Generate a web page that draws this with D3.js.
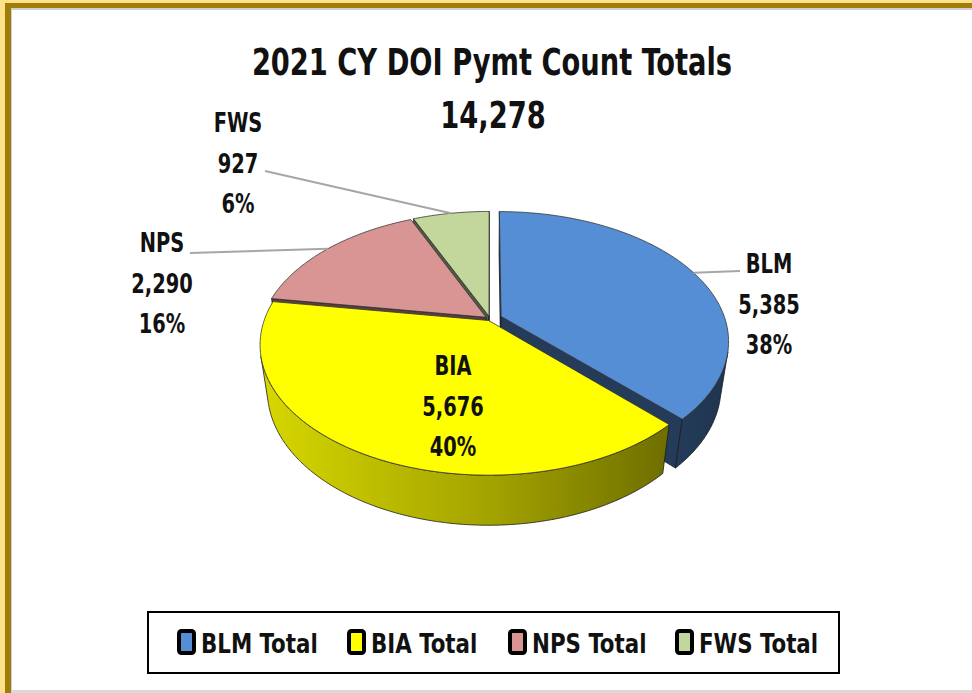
<!DOCTYPE html>
<html>
<head>
<meta charset="utf-8">
<script src="https://cdn.jsdelivr.net/npm/d3@7"></script>
<style>
  html, body { margin: 0; padding: 0; background: #fde28a; }
  svg { display: block; }
  text { font-family: "DejaVu Sans Condensed", "DejaVu Sans", sans-serif; font-weight: bold; fill: #111; }
</style>
</head>
<body>
<svg id="chart" width="972" height="693"></svg>
<script>
// data
const categories = ["BLM", "BIA", "NPS", "FWS"];
const counts = [5385, 5676, 2290, 927];
const legendLabels = ["BLM Total", "BIA Total", "NPS Total", "FWS Total"];
const titleText = "2021 CY DOI Pymt Count Totals";

// look
const colors = ["#558ed5", "#ffff00", "#d99594", "#c3d69b"];
const explode = [12, 3, 5, 5];
// label block centre x / first baseline, and where the leader line starts
const labelAt = [[769, 273], [453, 375], [162, 252], [238, 132]];
const leaderFrom = [[740, 271], null, [190, 253], [265, 171]];

const W = 972, H = 693;
const svg = d3.select("#chart");

// the original font is a narrow one, so squeeze the glyphs a bit
function squeeze(sel, k) {
    sel.each(function() {
        const len = this.getComputedTextLength();
        d3.select(this).attr("textLength", len * k).attr("lengthAdjust", "spacingAndGlyphs");
    });
}

// frame
svg.append("rect").attr("x", 5).attr("y", 3).attr("width", W).attr("height", H).attr("fill", "#a07d0a");
svg.append("rect").attr("x", 11).attr("y", 8).attr("width", W).attr("height", H).attr("fill", "#d0d0d0");
svg.append("rect").attr("x", 12).attr("y", 10).attr("width", W).attr("height", 680).attr("fill", "#fff");
svg.append("rect").attr("x", 12).attr("y", 690).attr("width", W).attr("height", 3).attr("fill", "#dadada");

// title
svg.append("text").attr("x", 492).attr("y", 75).attr("text-anchor", "middle")
    .style("font-size", "37px").text(titleText).call(squeeze, 0.82);
svg.append("text").attr("x", 493).attr("y", 128).attr("text-anchor", "middle")
    .style("font-size", "37px").text(d3.format(",")(d3.sum(counts))).call(squeeze, 0.82);

// 3d projection of the pie disc
const R = 224, depth = 57;
const elev = 34 * Math.PI / 180, F = 998;
const cx = 490, cy = 319;
function proj(X, Y, Z) {
    const yv = Y * Math.cos(elev) - Z * Math.sin(elev);
    const dv = Z * Math.cos(elev) + Y * Math.sin(elev);
    const s = F / (F - dv);
    return [cx + X * s, cy - yv * s];
}

const rows = categories.map((c, i) => ({name: c, value: counts[i], i: i}));
const arcs = d3.pie().sort(null).value(d => d.value)(rows);
const total = d3.sum(counts);

const line = d3.line();
function rim(a, ox, oz, Y) {
    return proj(ox + R * Math.sin(a), Y, oz - R * Math.cos(a));
}
function arcPts(a0, a1, ox, oz, Y) {
    const n = Math.max(2, Math.ceil((a1 - a0) / 0.01));
    return d3.range(n + 1).map(k => rim(a0 + (a1 - a0) * k / n, ox, oz, Y));
}
function shade(col, k) {
    const c = d3.rgb(col);
    return d3.rgb(c.r * k, c.g * k, c.b * k).formatHex();
}

const defs = svg.append("defs");
const camZ = F * Math.cos(elev);
const wallLimit = Math.acos(-R / camZ);   // wall faces the viewer past this angle

arcs.forEach(d => {
    const mid = (d.startAngle + d.endAngle) / 2;
    d.ox = explode[d.data.i] * Math.sin(mid);
    d.oz = -explode[d.data.i] * Math.cos(mid);
    d.zmid = -Math.cos(mid);
    const g = defs.append("linearGradient").attr("id", "wall" + d.data.i)
        .attr("gradientUnits", "userSpaceOnUse")
        .attr("x1", cx - R).attr("x2", cx + R).attr("y1", 0).attr("y2", 0);
    g.append("stop").attr("offset", 0).attr("stop-color", shade(colors[d.data.i], 0.84));
    g.append("stop").attr("offset", 0.5).attr("stop-color", shade(colors[d.data.i], 0.64));
    g.append("stop").attr("offset", 1).attr("stop-color", shade(colors[d.data.i], 0.38));
});

const pieG = svg.append("g");
const order = arcs.slice().sort((a, b) => a.zmid - b.zmid);

order.forEach(d => {
    const i = d.data.i, ox = d.ox, oz = d.oz;
    const g = pieG.append("g");
    const c0 = proj(ox, 0, oz), c1 = proj(ox, -depth, oz);

    // radial cut faces that turn toward the camera
    [[d.startAngle, -1], [d.endAngle, 1]].forEach(([a, sgn]) => {
        const nx = sgn * Math.cos(a), nz = sgn * Math.sin(a);
        const dot = nx * (-ox) + nz * (camZ - oz);
        if (dot <= 0) return;
        const pts = [c0, rim(a, ox, oz, 0), rim(a, ox, oz, -depth), c1];
        g.append("path").attr("d", line(pts) + "Z")
            .attr("fill", shade(colors[i], 0.42))
            .attr("stroke", "#1a1a1a").attr("stroke-width", 0.8);
    });

    // outer wall
    const b0 = Math.max(d.startAngle, wallLimit), b1 = Math.min(d.endAngle, 2 * Math.PI - wallLimit);
    if (b1 > b0) {
        const top = arcPts(b0, b1, ox, oz, 0);
        const bot = arcPts(b0, b1, ox, oz, -depth).reverse();
        g.append("path").attr("d", line(top.concat(bot)) + "Z")
            .attr("fill", `url(#wall${i})`)
            .attr("stroke", "#1a1a1a").attr("stroke-width", 0.8);
    }

    // top face
    const face = [c0].concat(arcPts(d.startAngle, d.endAngle, ox, oz, 0));
    g.append("path").attr("d", line(face) + "Z")
        .attr("fill", colors[i])
        .attr("stroke", "#333").attr("stroke-width", 0.8);
});

// labels and leader lines
arcs.forEach(d => {
    const i = d.data.i;
    const mid = (d.startAngle + d.endAngle) / 2;
    if (leaderFrom[i]) {
        const p = rim(mid, d.ox, d.oz, 0);
        svg.append("line")
            .attr("x1", leaderFrom[i][0]).attr("y1", leaderFrom[i][1])
            .attr("x2", p[0]).attr("y2", p[1])
            .attr("stroke", "#a6a6a6").attr("stroke-width", 2);
    }
    const lines = [d.data.name, d3.format(",")(d.data.value), Math.round(100 * d.data.value / total) + "%"];
    svg.append("g").selectAll("text").data(lines).join("text")
        .attr("x", labelAt[i][0])
        .attr("y", (t, k) => labelAt[i][1] + k * 40.5)
        .attr("text-anchor", "middle")
        .style("font-size", "27px")
        .text(t => t)
        .call(squeeze, 0.8);
});

// legend
const leg = svg.append("g");
leg.append("rect").attr("x", 148).attr("y", 612).attr("width", 691).attr("height", 61)
    .attr("fill", "#fff").attr("stroke", "#000").attr("stroke-width", 2);
const legX = [179, 349, 510, 677];
legendLabels.forEach((lab, i) => {
    leg.append("rect").attr("x", legX[i]).attr("y", 631).attr("width", 15).attr("height", 22)
        .attr("rx", 2.5).attr("fill", colors[i]).attr("stroke", "#000").attr("stroke-width", 4);
    leg.append("text").attr("x", legX[i] + 22).attr("y", 653)
        .style("font-size", "27px").text(lab).call(squeeze, 0.88);
});
</script>
</body>
</html>
